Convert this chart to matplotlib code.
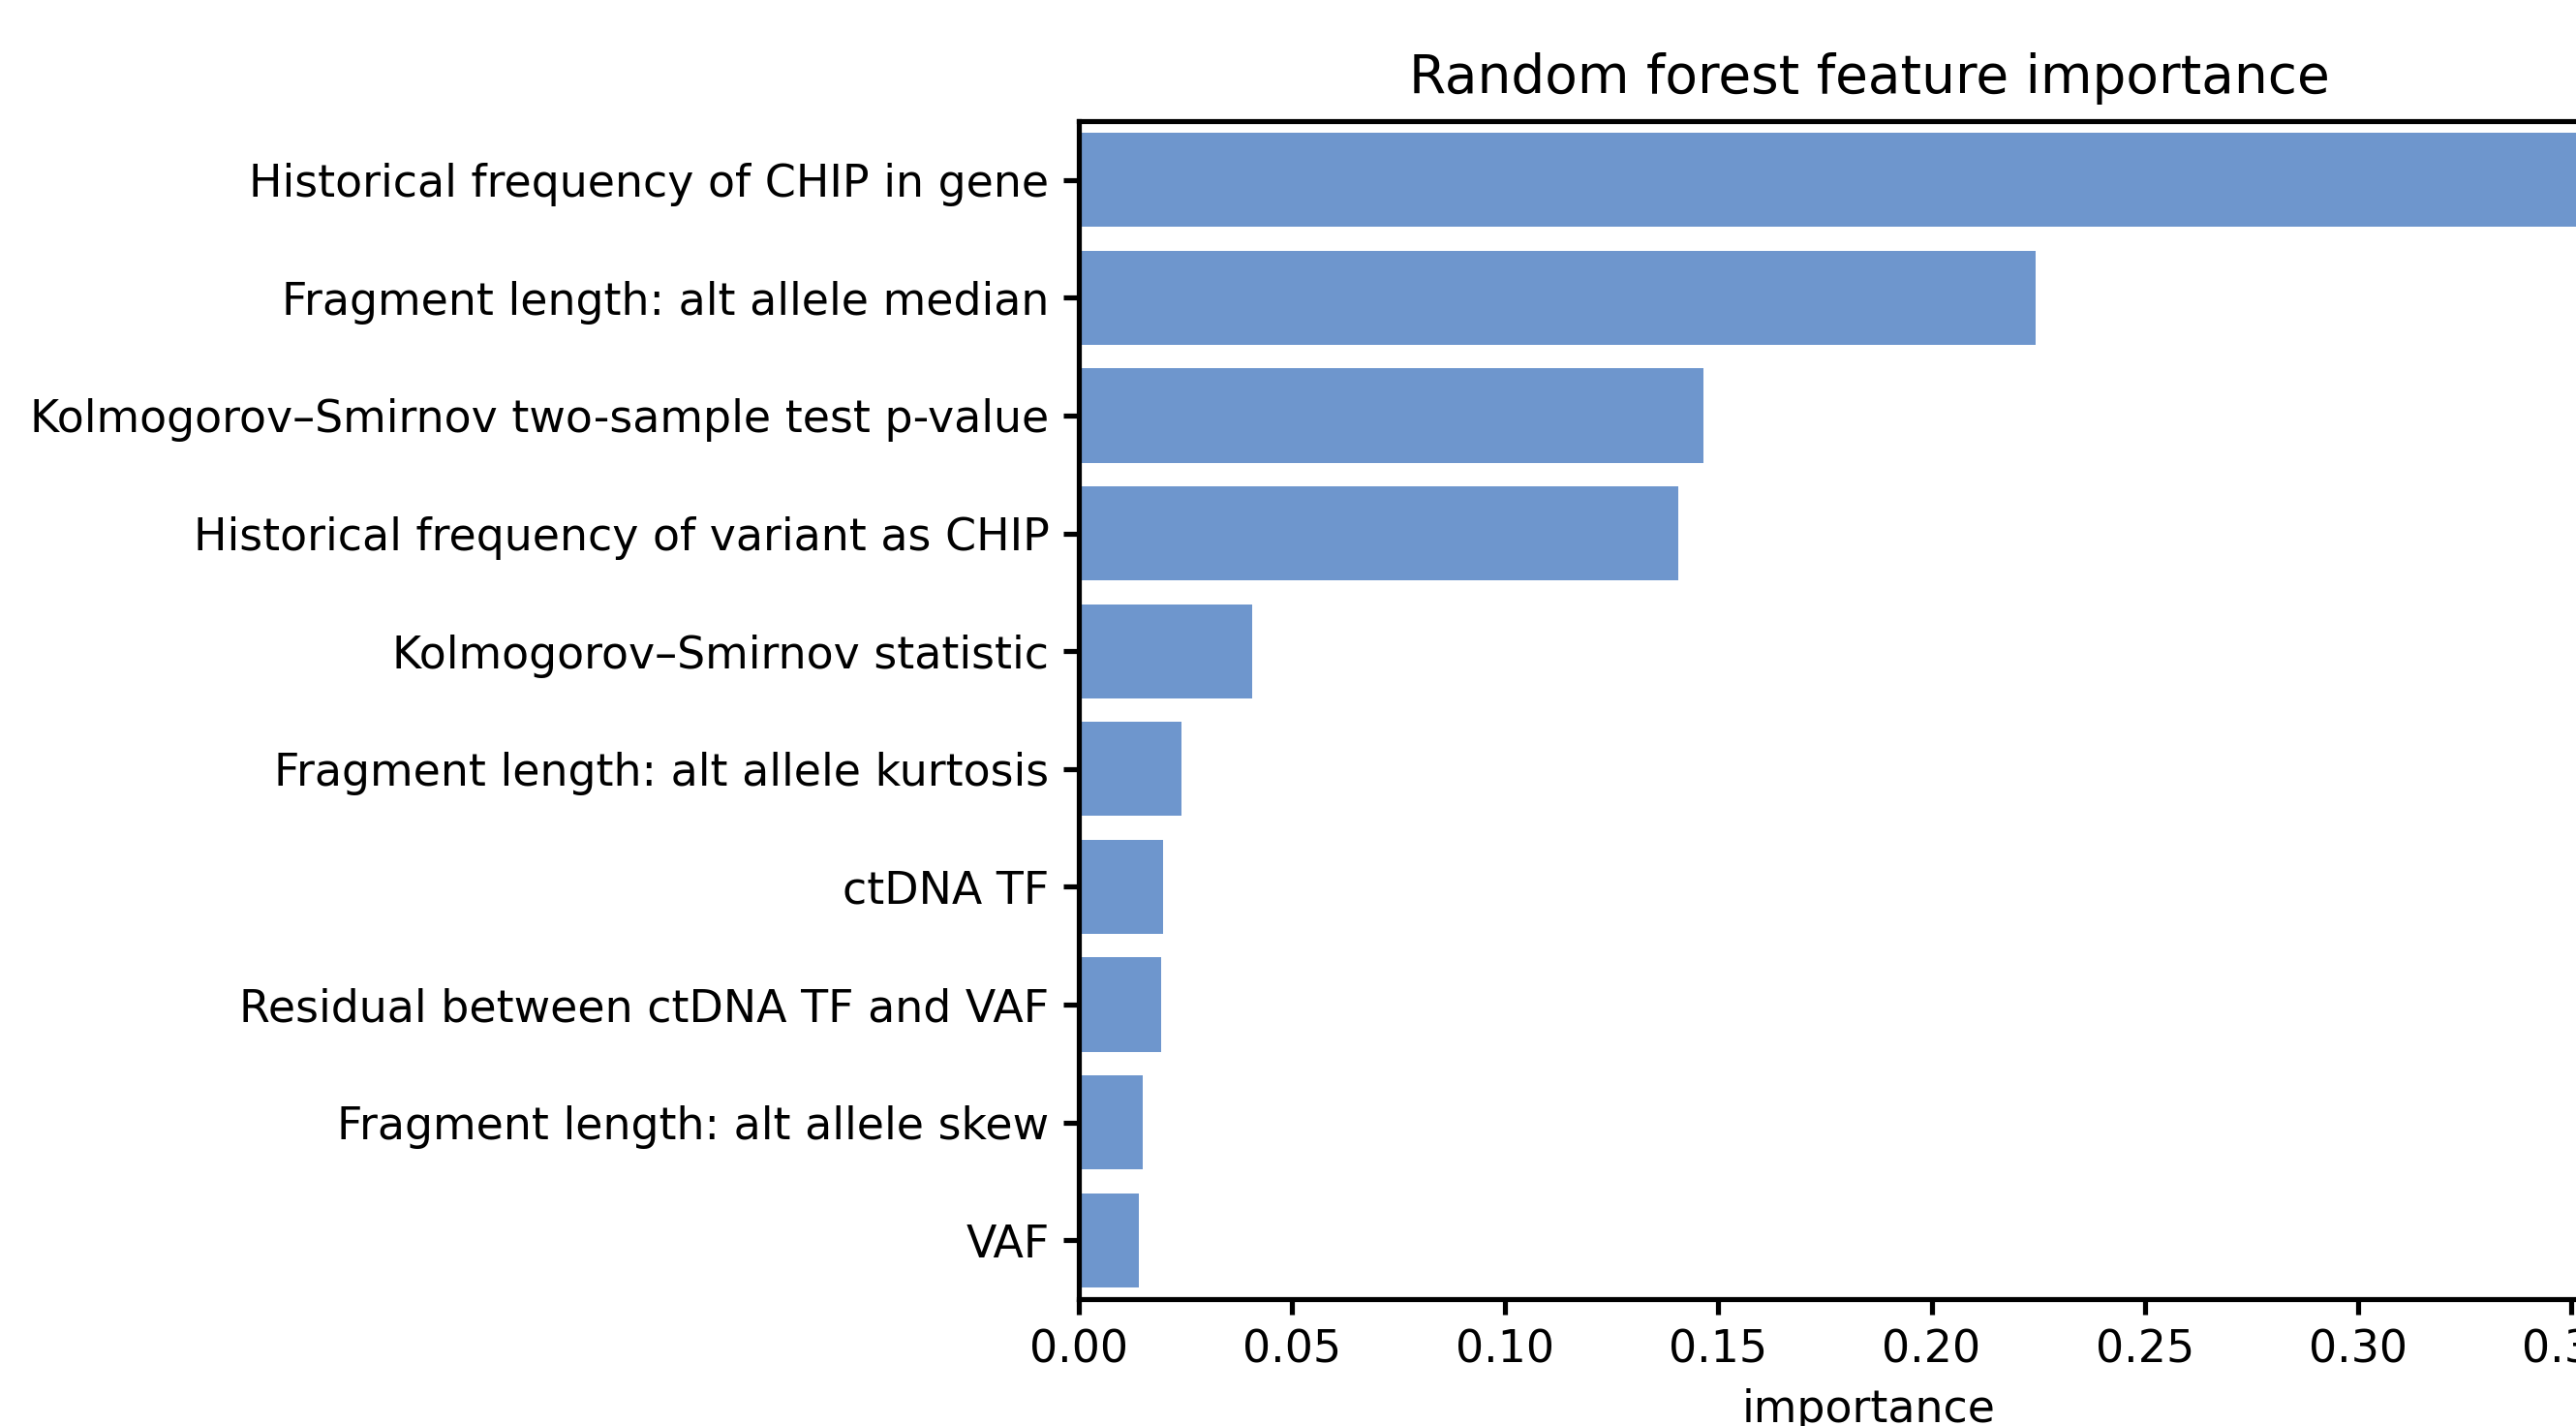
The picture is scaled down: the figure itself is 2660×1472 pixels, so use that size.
import matplotlib
matplotlib.use("Agg")
import matplotlib.pyplot as plt

# 特征重要性（从上到下）
features = [
    "Historical frequency of CHIP in gene",
    "Fragment length: alt allele median",
    "Kolmogorov–Smirnov two-sample test p-value",
    "Historical frequency of variant as CHIP",
    "Kolmogorov–Smirnov statistic",
    "Fragment length: alt allele kurtosis",
    "ctDNA TF",
    "Residual between ctDNA TF and VAF",
    "Fragment length: alt allele skew",
    "VAF",
]
importance = [0.353, 0.2245, 0.1465, 0.1405, 0.0406, 0.0242, 0.0197, 0.0194, 0.0150, 0.0142]
xticks = [0.00, 0.05, 0.10, 0.15, 0.20, 0.25, 0.30, 0.35]

bar_color = "#6E96CD"

plt.rcParams.update({
    "font.family": ["DejaVu Sans"],
    "axes.linewidth": 1.25,
    "xtick.major.width": 1.25,
    "ytick.major.width": 1.25,
    "xtick.major.size": 3.8,
    "ytick.major.size": 3.8,
})

fig = plt.figure(figsize=(8.87, 4.9067), dpi=300)
# 原图右侧被裁掉，坐标轴延伸出画布
ax = fig.add_axes([0.4186, 0.0890, 0.6133, 0.8261])

ypos = list(range(len(features)))
ax.barh(ypos, importance, height=0.8, color=bar_color)
ax.set_yticks(ypos)
ax.set_yticklabels(features, fontsize=11)
ax.set_ylim(len(features) - 0.5, -0.5)
ax.set_xticks(xticks)
ax.set_xticklabels([f"{t:.2f}" for t in xticks], fontsize=11)
ax.set_xlabel("importance", fontsize=11, labelpad=4)
ax.set_title("Random forest feature importance", fontsize=13.2, pad=7)
ax.spines["right"].set_visible(False)

fig.savefig("out.png", dpi=300)
